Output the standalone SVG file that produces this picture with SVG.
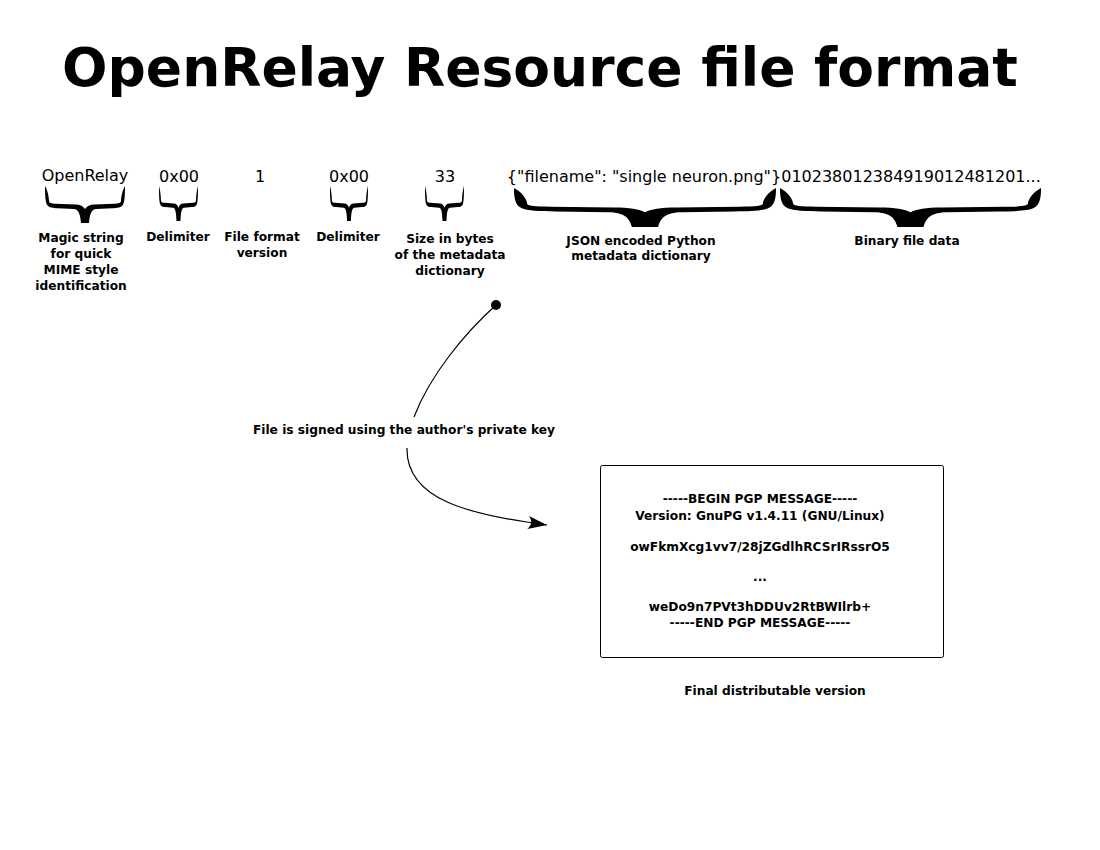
<svg xmlns="http://www.w3.org/2000/svg" width="1100" height="850" viewBox="0 0 1100 850">
<style>
  text { font-family: "DejaVu Sans", "Liberation Sans", sans-serif; fill: #000; }
  .title { font-size: 53.5px; font-weight: bold; text-anchor: middle; }
  .val { font-size: 16px; text-anchor: middle; }
  .lbl { font-size: 12.2px; font-weight: bold; text-anchor: middle; }
  .brace { fill: #000; stroke: none; }
  .conn { fill: none; stroke: #000; stroke-width: 1.2; }
</style>
<defs>
  <path id="bracePath" d="M0,0 C3,10 5,30 5,40 C5,46 8,48 14,48 L38,50 C44,50 48,55 50,62 C52,55 56,50 62,50 L86,48 C92,48 95,46 95,40 C95,30 97,10 100,0 C100,15 100,45 97,52 C95,58 90,60 84,60 L64,62 C58,63 56,75 55,100 L45,100 C44,75 42,63 36,62 L16,60 C10,60 5,58 3,52 C0,45 0,15 0,0 Z"/>
  <marker id="arrow" markerUnits="userSpaceOnUse" markerWidth="22" markerHeight="16" viewBox="-21 -8 22 16" refX="0" refY="0" orient="auto">
    <path d="M0,0 L-19,-6.5 C-15,-2 -15,2 -19,6.5 Z" fill="#000"/>
  </marker>
</defs>
<rect width="1100" height="850" fill="#fff"/>

<g id="title">
  <text class="title" x="540" y="86">OpenRelay Resource file format</text>
</g>

<g id="magic">
  <text class="val" x="85" y="181">OpenRelay</text>
  <use href="#bracePath" class="brace" transform="translate(45,186) scale(0.8,0.37)"/>
  <text class="lbl" x="81" y="242">Magic string</text>
  <text class="lbl" x="81" y="258">for quick</text>
  <text class="lbl" x="81" y="274">MIME style</text>
  <text class="lbl" x="81" y="290">identification</text>
</g>

<g id="delim1">
  <text class="val" x="179" y="182">0x00</text>
  <use href="#bracePath" class="brace" transform="translate(159,186) scale(0.39,0.35)"/>
  <text class="lbl" x="178" y="241">Delimiter</text>
</g>

<g id="version">
  <text class="val" x="260" y="182">1</text>
  <text class="lbl" x="262" y="241">File format</text>
  <text class="lbl" x="262" y="257">version</text>
</g>

<g id="delim2">
  <text class="val" x="349" y="182">0x00</text>
  <use href="#bracePath" class="brace" transform="translate(330,186) scale(0.38,0.35)"/>
  <text class="lbl" x="348" y="241">Delimiter</text>
</g>

<g id="size">
  <text class="val" x="445" y="182">33</text>
  <use href="#bracePath" class="brace" transform="translate(425,186) scale(0.39,0.35)"/>
  <text class="lbl" x="450" y="243">Size in bytes</text>
  <text class="lbl" x="450" y="259">of the metadata</text>
  <text class="lbl" x="450" y="275">dictionary</text>
</g>

<g id="json">
  <text class="val" x="644" y="182">{"filename": "single neuron.png"}</text>
  <use href="#bracePath" class="brace" transform="translate(514,188) scale(2.62,0.39)"/>
  <text class="lbl" x="641" y="245">JSON encoded Python</text>
  <text class="lbl" x="641" y="260">metadata dictionary</text>
</g>

<g id="binary">
  <text class="val" x="911" y="182">010238012384919012481201...</text>
  <use href="#bracePath" class="brace" transform="translate(780,188) scale(2.61,0.39)"/>
  <text class="lbl" x="907" y="245">Binary file data</text>
</g>

<g id="signing">
  <text class="lbl" x="404" y="434">File is signed using the author's private key</text>
</g>

<g id="pgp">
  <rect x="600.5" y="465.5" width="343" height="192" rx="2" ry="2" fill="#fff" stroke="#000" stroke-width="1"/>
  <text class="lbl" x="760" y="503">-----BEGIN PGP MESSAGE-----</text>
  <text class="lbl" x="760" y="520">Version: GnuPG v1.4.11 (GNU/Linux)</text>
  <text class="lbl" x="760" y="551">owFkmXcg1vv7/28jZGdlhRCSrIRssrO5</text>
  <text class="lbl" x="760" y="581">...</text>
  <text class="lbl" x="760" y="611">weDo9n7PVt3hDDUv2RtBWIlrb+</text>
  <text class="lbl" x="760" y="627">-----END PGP MESSAGE-----</text>
</g>

<g id="final">
  <text class="lbl" x="775" y="695">Final distributable version</text>
</g>

<g id="connectors">
  <circle cx="496" cy="305" r="5" fill="#000"/>
  <path class="conn" d="M496,305 C465,333 430,375 414,417"/>
  <path class="conn" d="M407,448 C406,500 470,515 547,525" marker-end="url(#arrow)"/>
</g>
</svg>
